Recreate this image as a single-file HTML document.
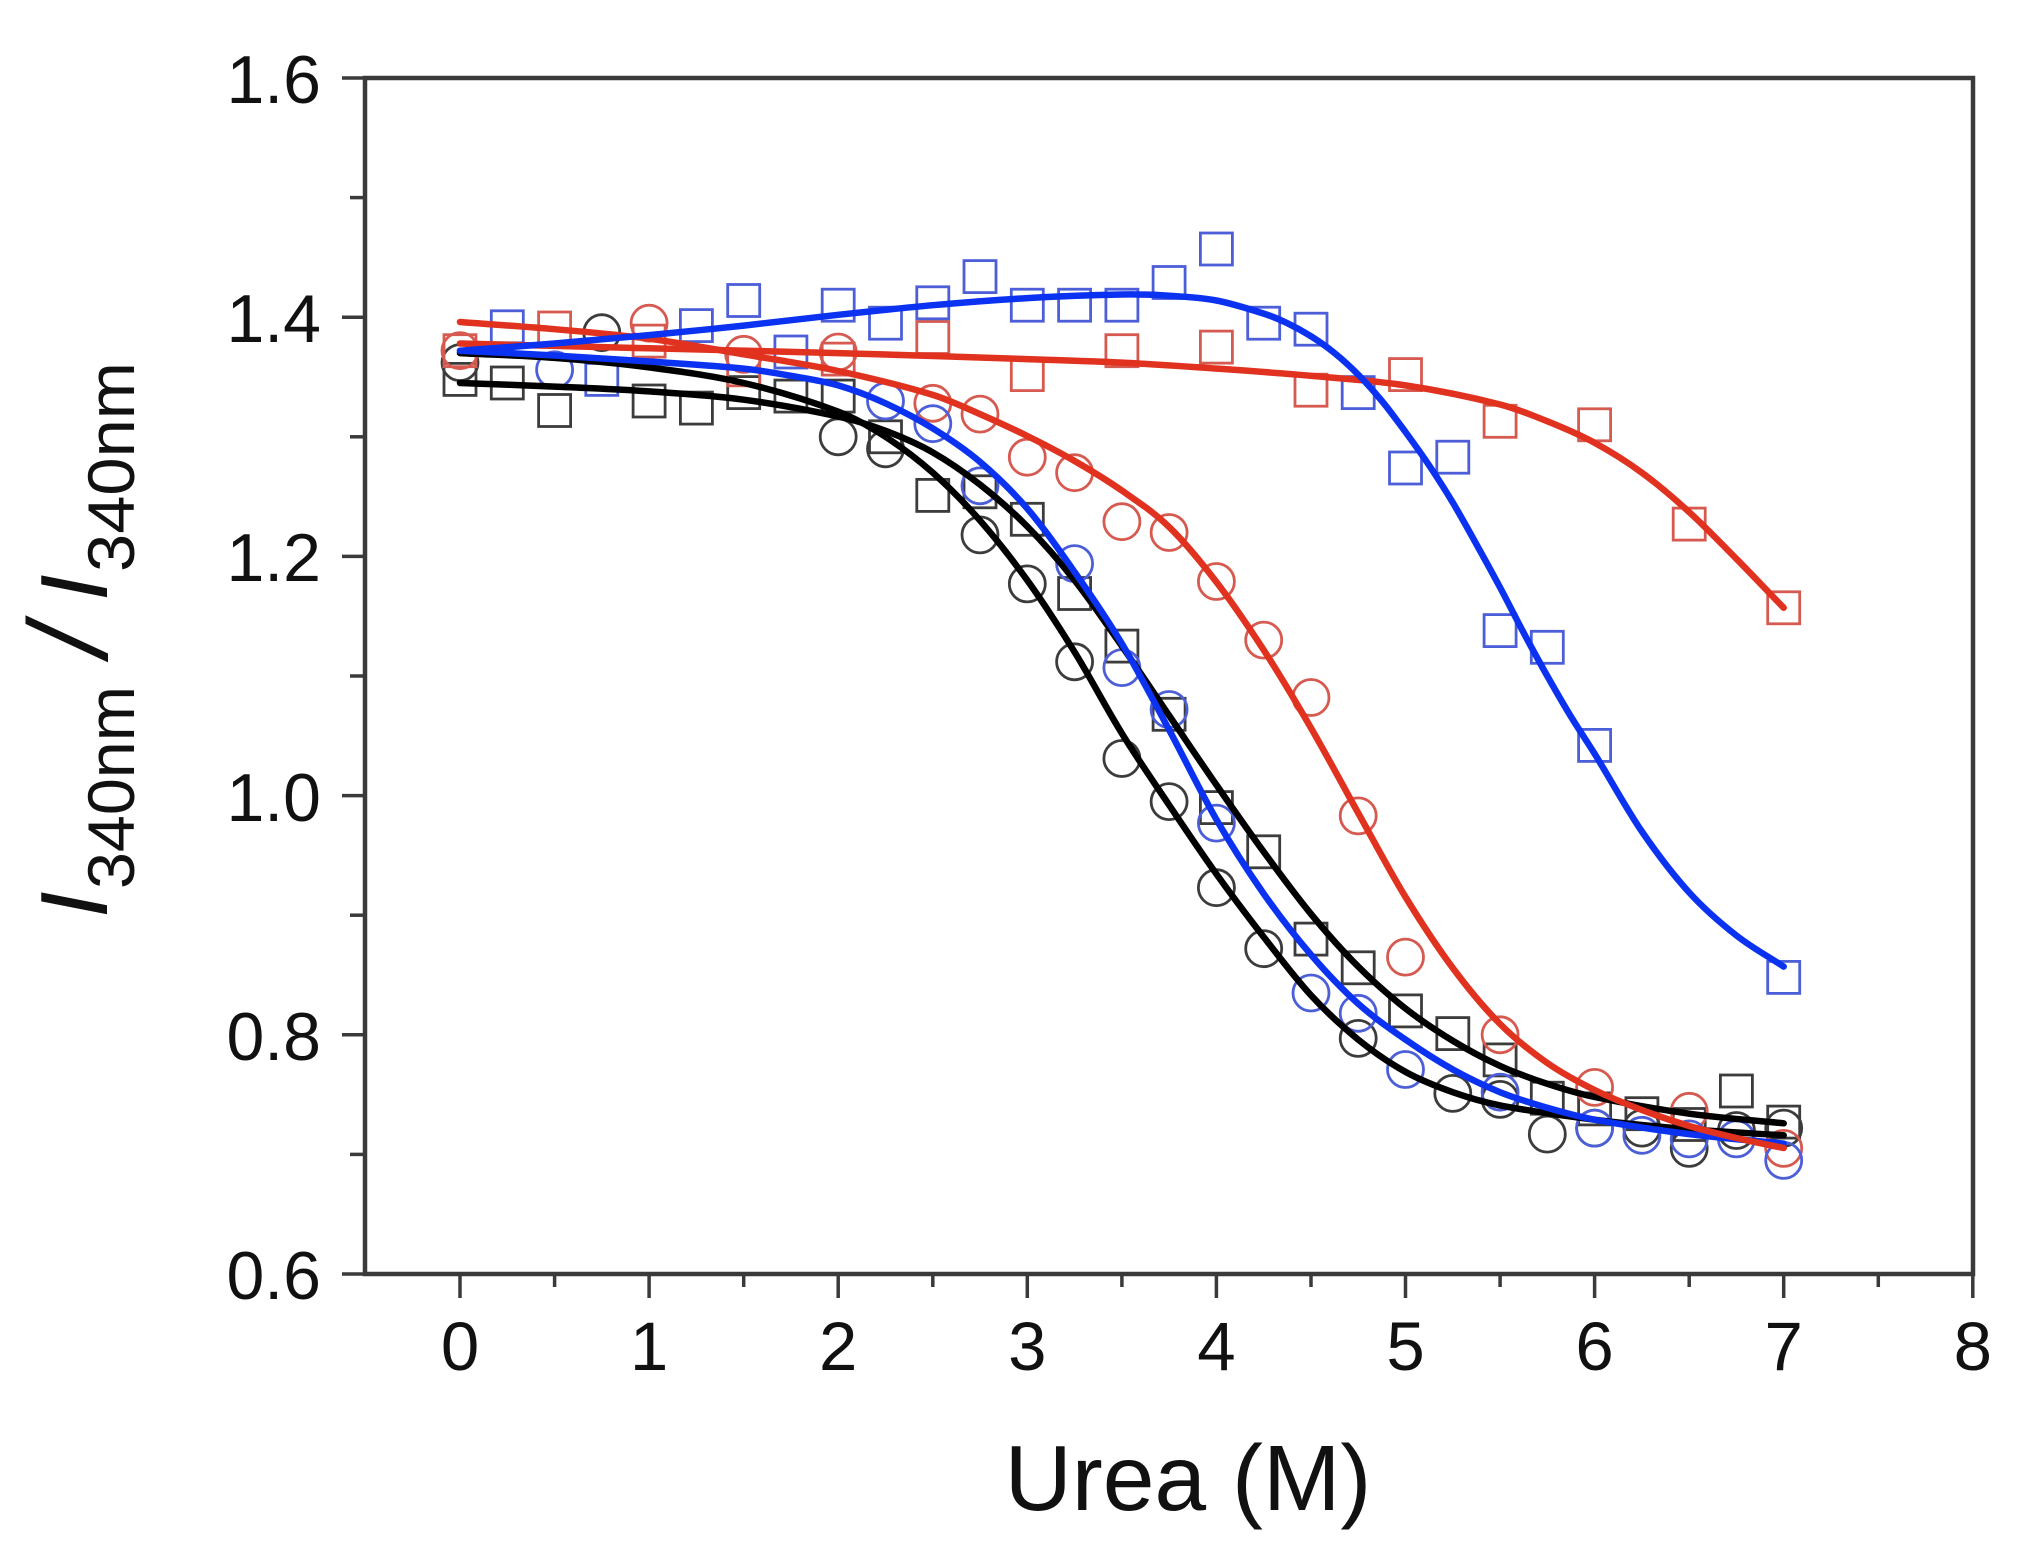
<!DOCTYPE html>
<html>
<head>
<meta charset="utf-8">
<style>
  html, body { margin: 0; padding: 0; background: #ffffff; }
  svg { display: block; }
  text { font-family: "Liberation Sans", Arial, sans-serif; fill: #111; }
</style>
</head>
<body>
<svg id="chart" width="2017" height="1564" viewBox="0 0 2017 1564" xmlns="http://www.w3.org/2000/svg">
  <rect x="0" y="0" width="2017" height="1564" fill="#ffffff"/>

  <!-- Axes frame -->
  <rect x="365" y="78" width="1608" height="1196" fill="none" stroke="#3a3a3a" stroke-width="4.5"/>

  <!-- X ticks -->
  <g stroke="#3a3a3a" stroke-width="3.5">
    <line x1="460" y1="1274" x2="460" y2="1298"/>
    <line x1="649.1" y1="1274" x2="649.1" y2="1298"/>
    <line x1="838.2" y1="1274" x2="838.2" y2="1298"/>
    <line x1="1027.3" y1="1274" x2="1027.3" y2="1298"/>
    <line x1="1216.4" y1="1274" x2="1216.4" y2="1298"/>
    <line x1="1405.5" y1="1274" x2="1405.5" y2="1298"/>
    <line x1="1594.6" y1="1274" x2="1594.6" y2="1298"/>
    <line x1="1783.7" y1="1274" x2="1783.7" y2="1298"/>
    <line x1="1972.8" y1="1274" x2="1972.8" y2="1298"/>
    <line x1="554.6" y1="1274" x2="554.6" y2="1287"/>
    <line x1="743.7" y1="1274" x2="743.7" y2="1287"/>
    <line x1="932.8" y1="1274" x2="932.8" y2="1287"/>
    <line x1="1121.9" y1="1274" x2="1121.9" y2="1287"/>
    <line x1="1311" y1="1274" x2="1311" y2="1287"/>
    <line x1="1500.1" y1="1274" x2="1500.1" y2="1287"/>
    <line x1="1689.2" y1="1274" x2="1689.2" y2="1287"/>
    <line x1="1878.3" y1="1274" x2="1878.3" y2="1287"/>
  </g>
  <!-- Y ticks -->
  <g stroke="#3a3a3a" stroke-width="3.5">
    <line x1="342" y1="78" x2="365" y2="78"/>
    <line x1="342" y1="317.2" x2="365" y2="317.2"/>
    <line x1="342" y1="556.4" x2="365" y2="556.4"/>
    <line x1="342" y1="795.6" x2="365" y2="795.6"/>
    <line x1="342" y1="1034.8" x2="365" y2="1034.8"/>
    <line x1="342" y1="1274" x2="365" y2="1274"/>
    <line x1="350" y1="197.6" x2="365" y2="197.6"/>
    <line x1="350" y1="436.8" x2="365" y2="436.8"/>
    <line x1="350" y1="676" x2="365" y2="676"/>
    <line x1="350" y1="915.2" x2="365" y2="915.2"/>
    <line x1="350" y1="1154.4" x2="365" y2="1154.4"/>
  </g>

  <!-- X tick labels -->
  <g font-size="69" text-anchor="middle">
    <text x="460" y="1370">0</text>
    <text x="649.1" y="1370">1</text>
    <text x="838.2" y="1370">2</text>
    <text x="1027.3" y="1370">3</text>
    <text x="1216.4" y="1370">4</text>
    <text x="1405.5" y="1370">5</text>
    <text x="1594.6" y="1370">6</text>
    <text x="1783.7" y="1370">7</text>
    <text x="1972.8" y="1370">8</text>
  </g>
  <!-- Y tick labels -->
  <g font-size="68" text-anchor="end">
    <text x="321" y="103">1.6</text>
    <text x="321" y="342">1.4</text>
    <text x="321" y="581">1.2</text>
    <text x="321" y="821">1.0</text>
    <text x="321" y="1060">0.8</text>
    <text x="321" y="1299">0.6</text>
  </g>

  <!-- Axis titles -->
  <text x="1188" y="1510" font-size="93" text-anchor="middle">Urea (M)</text>
  <text transform="translate(107,918) rotate(-90)" font-size="96">
    <tspan x="0" y="0" font-style="italic">I</tspan>
    <tspan x="29" y="27" font-size="66" textLength="203" lengthAdjust="spacingAndGlyphs">340nm</tspan>
    <tspan x="262" y="0" font-size="112" font-style="italic">/</tspan>
    <tspan x="317" y="0" font-style="italic">I</tspan>
    <tspan x="346" y="27" font-size="66" textLength="210" lengthAdjust="spacingAndGlyphs">340nm</tspan>
  </text>

  <!-- Markers -->
  <g fill="none" stroke-width="2.8">
    <!-- Black squares -->
    <g stroke="#3c3c3c">
      <rect x="444" y="363.4" width="32" height="32"/>
      <rect x="491.3" y="367" width="32" height="32"/>
      <rect x="538.6" y="394.5" width="32" height="32"/>
      <rect x="633.1" y="385" width="32" height="32"/>
      <rect x="680.4" y="392.1" width="32" height="32"/>
      <rect x="727.7" y="376.6" width="32" height="32"/>
      <rect x="774.9" y="380.1" width="32" height="32"/>
      <rect x="822.2" y="380.1" width="32" height="32"/>
      <rect x="869.5" y="420.8" width="32" height="32"/>
      <rect x="916.8" y="479.4" width="32" height="32"/>
      <rect x="964" y="475.8" width="32" height="32"/>
      <rect x="1011.3" y="503.3" width="32" height="32"/>
      <rect x="1058.6" y="577.5" width="32" height="32"/>
      <rect x="1105.9" y="630.1" width="32" height="32"/>
      <rect x="1153.1" y="698.3" width="32" height="32"/>
      <rect x="1200.4" y="791.6" width="32" height="32"/>
      <rect x="1247.7" y="835.8" width="32" height="32"/>
      <rect x="1295" y="923.1" width="32" height="32"/>
      <rect x="1342.2" y="951.8" width="32" height="32"/>
      <rect x="1389.5" y="994.9" width="32" height="32"/>
      <rect x="1436.8" y="1017.6" width="32" height="32"/>
      <rect x="1484.1" y="1043.9" width="32" height="32"/>
      <rect x="1531.3" y="1082.2" width="32" height="32"/>
      <rect x="1578.6" y="1092.9" width="32" height="32"/>
      <rect x="1625.9" y="1097.7" width="32" height="32"/>
      <rect x="1673.2" y="1108.5" width="32" height="32"/>
      <rect x="1720.4" y="1075" width="32" height="32"/>
      <rect x="1767.7" y="1106.1" width="32" height="32"/>
    </g>
    <!-- Black circles -->
    <g stroke="#3c3c3c">
      <circle cx="460" cy="362.6" r="18"/>
      <circle cx="601.8" cy="332.7" r="18"/>
      <circle cx="838.2" cy="436.8" r="18"/>
      <circle cx="885.5" cy="448.8" r="18"/>
      <circle cx="980" cy="534.9" r="18"/>
      <circle cx="1027.3" cy="583.9" r="18"/>
      <circle cx="1074.6" cy="661.8" r="18"/>
      <circle cx="1121.9" cy="758.5" r="18"/>
      <circle cx="1169.1" cy="801.6" r="18"/>
      <circle cx="1216.4" cy="887.7" r="18"/>
      <circle cx="1263.7" cy="948.7" r="18"/>
      <circle cx="1358.2" cy="1038.4" r="18"/>
      <circle cx="1452.8" cy="1093.4" r="18"/>
      <circle cx="1500.1" cy="1099.4" r="18"/>
      <circle cx="1547.3" cy="1134.1" r="18"/>
      <circle cx="1594.6" cy="1128.1" r="18"/>
      <circle cx="1641.9" cy="1128.1" r="18"/>
      <circle cx="1689.2" cy="1148.4" r="18"/>
      <circle cx="1736.4" cy="1130.5" r="18"/>
      <circle cx="1783.7" cy="1128.1" r="18"/>
    </g>
    <!-- Red squares -->
    <g stroke="#d65a50">
      <rect x="444" y="334.7" width="32" height="32"/>
      <rect x="538.6" y="312" width="32" height="32"/>
      <rect x="633.1" y="325.1" width="32" height="32"/>
      <rect x="727.7" y="353.8" width="32" height="32"/>
      <rect x="822.2" y="343.1" width="32" height="32"/>
      <rect x="916.8" y="321.5" width="32" height="32"/>
      <rect x="1011.3" y="358.6" width="32" height="32"/>
      <rect x="1105.9" y="334.7" width="32" height="32"/>
      <rect x="1200.4" y="331.1" width="32" height="32"/>
      <rect x="1295" y="374.2" width="32" height="32"/>
      <rect x="1389.5" y="358.6" width="32" height="32"/>
      <rect x="1484.1" y="405.3" width="32" height="32"/>
      <rect x="1578.6" y="408.8" width="32" height="32"/>
      <rect x="1673.2" y="508.1" width="32" height="32"/>
      <rect x="1767.7" y="591.8" width="32" height="32"/>
    </g>
    <!-- Red circles -->
    <g stroke="#d65a50">
      <circle cx="460" cy="350.7" r="18"/>
      <circle cx="649.1" cy="323.2" r="18"/>
      <circle cx="743.7" cy="354.3" r="18"/>
      <circle cx="838.2" cy="352" r="18"/>
      <circle cx="932.8" cy="403.3" r="18"/>
      <circle cx="980" cy="414.1" r="18"/>
      <circle cx="1027.3" cy="457.2" r="18"/>
      <circle cx="1074.6" cy="472.7" r="18"/>
      <circle cx="1121.9" cy="521.7" r="18"/>
      <circle cx="1169.1" cy="532.5" r="18"/>
      <circle cx="1216.4" cy="581.5" r="18"/>
      <circle cx="1263.7" cy="640.1" r="18"/>
      <circle cx="1311" cy="697.5" r="18"/>
      <circle cx="1358.2" cy="815.9" r="18"/>
      <circle cx="1405.5" cy="957.1" r="18"/>
      <circle cx="1500.1" cy="1034.8" r="18"/>
      <circle cx="1594.6" cy="1087.4" r="18"/>
      <circle cx="1689.2" cy="1111.3" r="18"/>
      <circle cx="1783.7" cy="1148.4" r="18"/>
    </g>
    <!-- Blue squares -->
    <g stroke="#4c5fd8">
      <rect x="491.3" y="310.8" width="32" height="32"/>
      <rect x="585.8" y="363.4" width="32" height="32"/>
      <rect x="680.4" y="309.6" width="32" height="32"/>
      <rect x="727.7" y="284.5" width="32" height="32"/>
      <rect x="774.9" y="336" width="32" height="32"/>
      <rect x="822.2" y="289.2" width="32" height="32"/>
      <rect x="869.5" y="307.2" width="32" height="32"/>
      <rect x="916.8" y="286.8" width="32" height="32"/>
      <rect x="964" y="260.6" width="32" height="32"/>
      <rect x="1011.3" y="289.2" width="32" height="32"/>
      <rect x="1058.6" y="289.2" width="32" height="32"/>
      <rect x="1105.9" y="289.2" width="32" height="32"/>
      <rect x="1153.1" y="266.5" width="32" height="32"/>
      <rect x="1200.4" y="233" width="32" height="32"/>
      <rect x="1247.7" y="307.2" width="32" height="32"/>
      <rect x="1295" y="313.2" width="32" height="32"/>
      <rect x="1342.2" y="376.6" width="32" height="32"/>
      <rect x="1389.5" y="452" width="32" height="32"/>
      <rect x="1436.8" y="441.2" width="32" height="32"/>
      <rect x="1484.1" y="614.6" width="32" height="32"/>
      <rect x="1531.3" y="631.3" width="32" height="32"/>
      <rect x="1578.6" y="729.4" width="32" height="32"/>
      <rect x="1767.7" y="961.4" width="32" height="32"/>
    </g>
    <!-- Blue circles -->
    <g stroke="#4c5fd8">
      <circle cx="554.6" cy="369.8" r="18"/>
      <circle cx="885.5" cy="401" r="18"/>
      <circle cx="932.8" cy="423.7" r="18"/>
      <circle cx="980" cy="485.8" r="18"/>
      <circle cx="1074.6" cy="563.6" r="18"/>
      <circle cx="1121.9" cy="667.6" r="18"/>
      <circle cx="1169.1" cy="709.5" r="18"/>
      <circle cx="1216.4" cy="823.1" r="18"/>
      <circle cx="1311" cy="993" r="18"/>
      <circle cx="1358.2" cy="1013.3" r="18"/>
      <circle cx="1405.5" cy="1069.5" r="18"/>
      <circle cx="1500.1" cy="1092.2" r="18"/>
      <circle cx="1594.6" cy="1128.1" r="18"/>
      <circle cx="1641.9" cy="1135.3" r="18"/>
      <circle cx="1689.2" cy="1138.9" r="18"/>
      <circle cx="1736.4" cy="1138.9" r="18"/>
      <circle cx="1783.7" cy="1160.4" r="18"/>
    </g>
  </g>

  <!-- Fit lines -->
  <g fill="none" stroke-width="6.5" stroke-linejoin="round" stroke-linecap="round">
    <!-- Black square fit -->
    <polyline class="fit" stroke="#000000" points="460,383 554.6,386.6 649.1,391.4 743.7,399.7 838.2,416.5 885.5,430.8 932.8,452.4 980,484.6 1027.3,526.5 1074.6,580.3 1121.9,646.1 1169.1,715.5 1216.4,784.9 1263.7,851.8 1311,914 1358.2,966.6 1405.5,1008.5 1452.8,1040.8 1500.1,1065.9 1547.3,1083.8 1594.6,1097 1689.2,1113.7 1783.7,1123.3"/>
    <!-- Black circle fit -->
    <polyline class="fit" stroke="#000000" points="460,353.1 554.6,357.9 649.1,367.4 743.7,383 838.2,411.7 885.5,436.8 932.8,472.7 980,520.5 1027.3,580.3 1074.6,652.1 1121.9,733.4 1169.1,805 1216.4,874 1263.7,937 1311,995.3 1358.2,1039.6 1405.5,1071.9 1452.8,1092.2 1500.1,1105.4 1594.6,1119.7 1689.2,1129.3 1783.7,1135.3"/>
    <!-- Blue circle fit -->
    <polyline class="fit" stroke="#0a32f0" points="460,350.7 554.6,355.5 649.1,361.5 743.7,368.6 790.9,375.8 838.2,385.4 885.5,403.3 932.8,428.4 980,461.9 1027.3,508.6 1074.6,572 1121.9,643.7 1169.1,729.8 1216.4,819.5 1263.7,893.7 1311,954.7 1358.2,1003.7 1405.5,1039.6 1452.8,1069.5 1500.1,1092.2 1547.3,1107.8 1594.6,1119.7 1689.2,1134.1 1783.7,1143.6"/>
    <!-- Red circle fit -->
    <polyline class="fit" stroke="#e0321f" points="460,322 554.6,329.2 649.1,338.7 743.7,354.3 838.2,371 932.8,394.9 980,414.1 1027.3,436 1074.6,461 1121.9,490.6 1169.1,527 1216.4,582 1263.7,650 1311,728 1358.2,813 1405.5,897 1452.8,968 1500.1,1024 1547.3,1063 1594.6,1090 1641.9,1110 1689.2,1126 1736.4,1138 1783.7,1148"/>
    <!-- Red square fit -->
    <polyline class="fit" stroke="#e0321f" points="460,343.5 649.1,348.3 838.2,353.1 1027.3,359.1 1121.9,362.6 1216.4,368.6 1311,375.8 1405.5,385.4 1500.1,404.5 1547.3,421.3 1594.6,442.8 1641.9,472.7 1689.2,512.1 1736.4,558.8 1783.7,607.8"/>
    <!-- Blue square fit -->
    <polyline class="fit" stroke="#0a32f0" points="460,350.7 554.6,343.5 649.1,335.1 743.7,325.6 838.2,314.8 932.8,305.2 1027.3,298.1 1121.9,294.5 1169.1,295.7 1216.4,300.5 1263.7,313.6 1287.3,323.2 1311,336.3 1334.6,353.1 1358.2,374.6 1381.9,401 1405.5,432 1429.2,465.5 1452.8,502.6 1476.5,544.4 1500.1,587.5 1523.7,632.9 1547.3,676 1571,716.7 1594.6,753.7 1641.9,831.5 1689.2,892.5 1736.4,935.5 1783.7,966.6"/>
  </g>
</svg>
<script>
(function(){
  var NS = 'http://www.w3.org/2000/svg';
  var lines = document.querySelectorAll('polyline.fit');
  for (var k = 0; k < lines.length; k++) {
    var pl = lines[k];
    var raw = pl.getAttribute('points').trim().split(/\s+/);
    var P = raw.map(function(s){ var a = s.split(','); return [parseFloat(a[0]), parseFloat(a[1])]; });
    var n = P.length;
    if (n < 3) continue;
    var S = [];
    for (var i = 0; i < n; i++) {
      var a = P[Math.max(i-1,0)], b = P[Math.min(i+1,n-1)];
      S.push((b[1]-a[1])/(b[0]-a[0]));
    }
    var d = 'M' + P[0][0] + ',' + P[0][1];
    for (var i = 0; i < n-1; i++) {
      var h = P[i+1][0] - P[i][0];
      var c1x = P[i][0] + h/3, c1y = P[i][1] + S[i]*h/3;
      var c2x = P[i+1][0] - h/3, c2y = P[i+1][1] - S[i+1]*h/3;
      d += ' C' + c1x.toFixed(1) + ',' + c1y.toFixed(1) + ' ' + c2x.toFixed(1) + ',' + c2y.toFixed(1) + ' ' + P[i+1][0] + ',' + P[i+1][1];
    }
    var path = document.createElementNS(NS, 'path');
    path.setAttribute('d', d);
    path.setAttribute('stroke', pl.getAttribute('stroke'));
    path.setAttribute('fill', 'none');
    pl.parentNode.replaceChild(path, pl);
  }
})();
</script>
</body>
</html>
